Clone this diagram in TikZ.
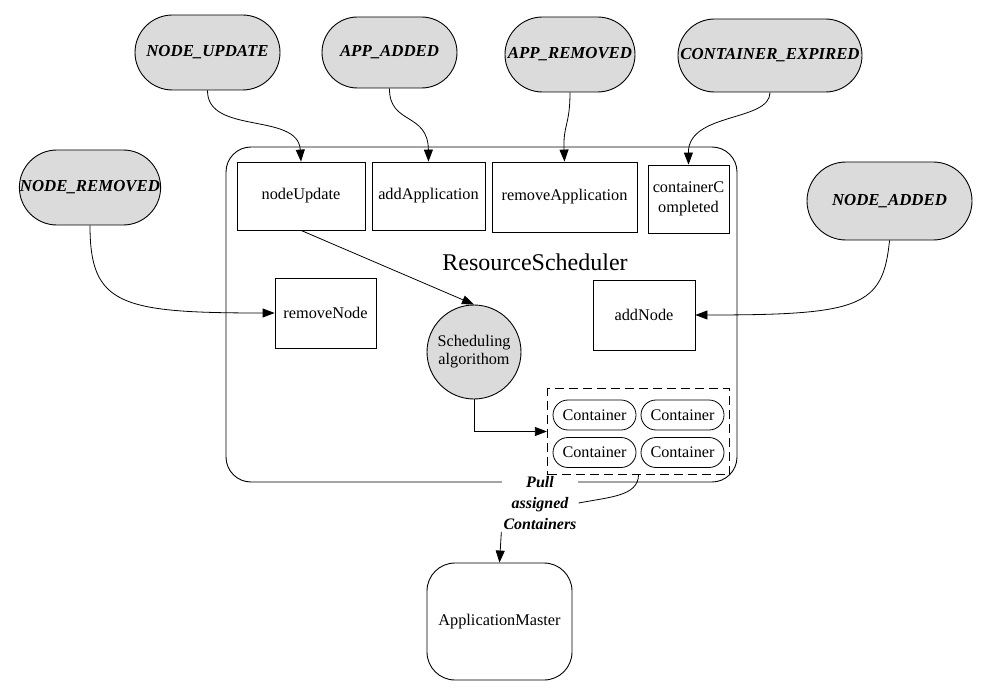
\documentclass[tikz,border=0pt]{standalone}
\usepackage{fontspec}
\setmainfont{Liberation Serif}
\usetikzlibrary{shapes.misc,arrows.meta}
\begin{document}
\begin{tikzpicture}[x=1pt,y=-1pt,
  event/.style={rounded rectangle, draw, fill=gray!28, line width=0.9pt, inner sep=0pt,
    font=\fontsize{16.8}{18}\selectfont\bfseries\itshape},
  box/.style={draw, line width=0.8pt, inner sep=0pt, align=center,
    font=\fontsize{16.3}{20}\selectfont},
  cont/.style={rounded rectangle, draw, line width=0.8pt, inner sep=0pt,
    minimum width=83pt, minimum height=30pt, font=\fontsize{16.2}{18}\selectfont},
  arr/.style={-{Triangle[length=12pt,width=9pt]}, line width=0.8pt},
  conn/.style={line width=0.8pt}]
\useasboundingbox (0,0) rectangle (990,695);

% events
\node[event, minimum width=145pt, minimum height=75pt] (nupd) at (207.5,52.5) {NODE\_UPDATE};
\node[event, minimum width=135pt, minimum height=71pt] (aadd) at (389.5,52.5) {APP\_ADDED};
\node[event, minimum width=130pt, minimum height=75pt] (arem) at (570,54.5) {APP\_REMOVED};
\node[event, minimum width=184pt, minimum height=73pt] (cexp) at (770,55.5) {CONTAINER\_EXPIRED};
\node[event, minimum width=140pt, minimum height=75pt] (nrem) at (90,187.5) {NODE\_REMOVED};
\node[event, minimum width=165pt, minimum height=78pt] (nadd) at (889.5,201) {NODE\_ADDED};

% resource scheduler
\node[draw, line width=0.9pt, rounded corners=25pt, minimum width=511pt, minimum height=335pt, inner sep=0pt] (rs) at (481.5,314.5) {};
\node[font=\fontsize{24}{26}\selectfont] (rslabel) at (535,262) {ResourceScheduler};

\node[box, minimum width=128pt, minimum height=68pt] (nu) at (301,196) {nodeUpdate};
\node[box, minimum width=113pt, minimum height=68pt] (aa) at (428.5,196) {addApplication};
\node[box, minimum width=145pt, minimum height=70pt] (ra) at (564.5,197) {removeApplication};
\node[box, minimum width=81pt, minimum height=68pt] (cc) at (688.5,199) {containerC\\ompleted};
\node[box, minimum width=101pt, minimum height=70pt] (rn) at (325.5,313) {removeNode};
\node[box, minimum width=102pt, minimum height=70pt] (an) at (644,315) {addNode};
\node[circle, draw, fill=gray!28, line width=0.9pt, minimum size=94pt, inner sep=0pt, align=center,
  font=\fontsize{16.2}{18}\selectfont] (sa) at (474,352) {Scheduling\\algorithom};

% pull label
\node[fill=white, inner sep=2pt, align=center, font=\fontsize{16}{21}\selectfont\bfseries\itshape] (pull) at (540,503) {Pull\\assigned\\Containers};

% containers
\node[draw, dashed, dash pattern=on 9pt off 5pt, line width=1.2pt, minimum width=182pt, minimum height=86pt, inner sep=0pt] (dash) at (638.5,431.5) {};
\node[cont] (c1) at (594.5,415) {Container};
\node[cont] (c2) at (682.5,415) {Container};
\node[cont] (c3) at (594.5,452.5) {Container};
\node[cont] (c4) at (682.5,452.5) {Container};

% application master
\node[draw, line width=0.9pt, rounded corners=28pt, minimum width=145pt, minimum height=117pt, inner sep=0pt,
  font=\fontsize{16.3}{18}\selectfont] (am) at (499.5,621.5) {ApplicationMaster};

% connectors
\draw[arr] (nupd.south) .. controls (207,135) and (298,112) .. (nu.north);
\draw[arr] (aadd.south) .. controls (389,125) and (428,112) .. (aa.north);
\draw[arr] (arem.south) .. controls (570,125) and (563,125) .. (ra.north);
\draw[arr] (cexp.south) .. controls (770,122) and (688,112) .. (cc.north);
\draw[arr] (nrem.south) .. controls (90,305) and (120,313) .. (rn.west);
\draw[arr] (nadd.south) .. controls (883,307) and (860,315) .. (an.east);
\draw[arr] (nu.south) -- (sa.north);
\draw[arr] (sa.south) |- (dash.west);
\draw[conn] (dash.south) .. controls (638,496) and (610,497) .. (pull.east);
\draw[arr] (pull.south west) -- (am.north);
\end{tikzpicture}
\end{document}
